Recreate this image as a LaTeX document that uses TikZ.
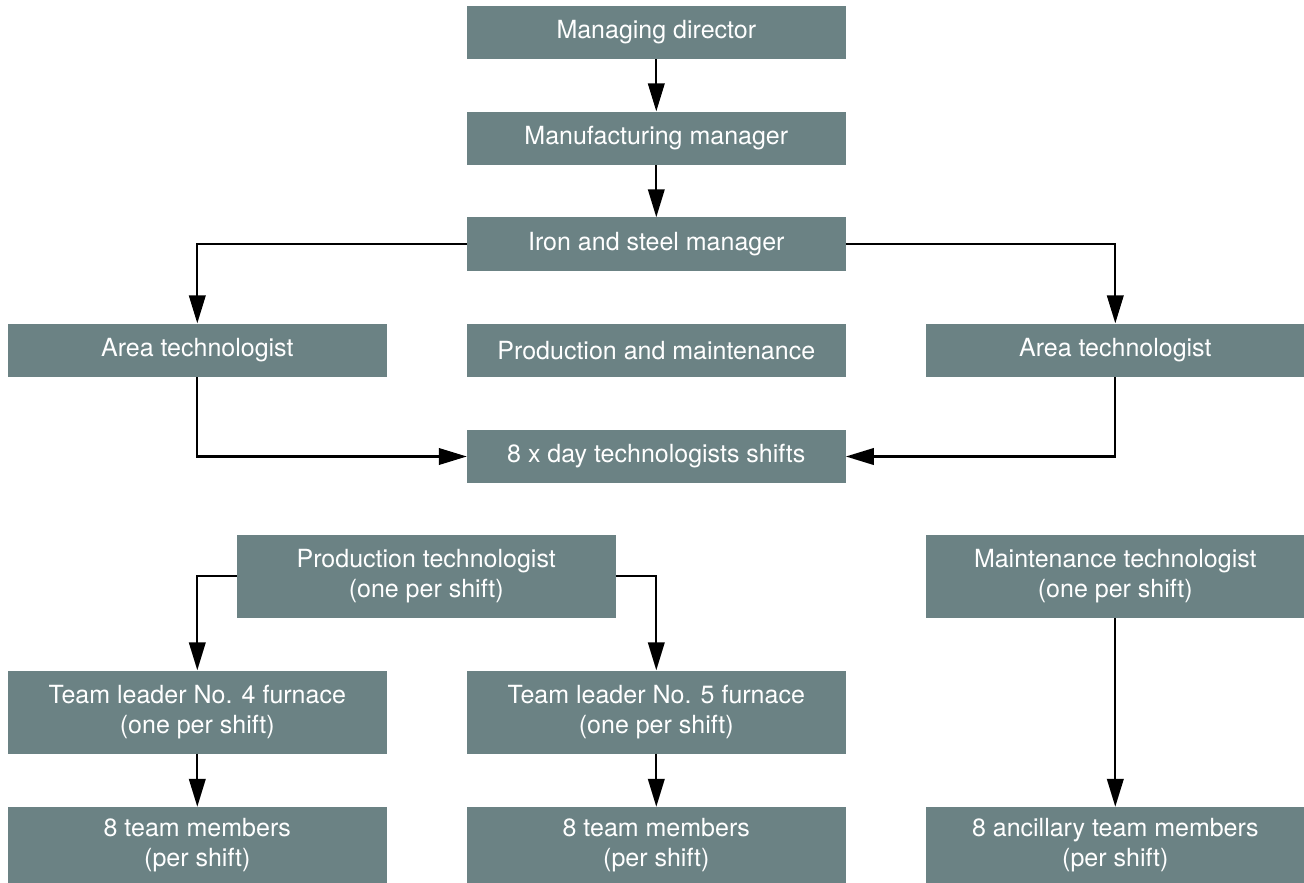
\documentclass[tikz,border=0pt]{standalone}
\usepackage{fontspec}
\setmainfont{TeX Gyre Heros}
\usetikzlibrary{arrows.meta}
\definecolor{boxfill}{RGB}{107,130,132}
\begin{document}
\begin{tikzpicture}[x=1pt,y=-1pt,
  orgbox/.style={fill=boxfill, text=white, inner sep=0pt, minimum width=378.7pt,
    align=center, font=\fontsize{25}{30}\selectfont},
  onel/.style={orgbox, minimum height=53.5pt},
  twol/.style={orgbox, minimum height=83pt},
  botl/.style={orgbox, minimum height=76pt},
  conn/.style={line width=2.3pt, -{Triangle[length=28pt,width=16.5pt]}}]
\useasboundingbox (0,0) rectangle (1304,883);
\node[onel] (md) at (656.3,32.3) {Managing director};
\node[onel] (mm) at (656.3,138.3) {Manufacturing manager};
\node[onel] (ism) at (656.3,244.2) {Iron and steel manager};
\node[onel] (al) at (197.3,350.3) {Area technologist};
\node[onel] (pm) at (656.3,350.3) {Production and maintenance};
\node[onel] (ar) at (1115.3,350.3) {Area technologist};
\node[onel] (day) at (656.3,456.5) {8 x day technologists shifts};
\node[twol] (pt) at (426.2,576.3) {Production technologist\\(one per shift)};
\node[twol] (mt) at (1115.3,576.3) {Maintenance technologist\\(one per shift)};
\node[twol] (tl4) at (197.3,712) {Team leader No. 4 furnace\\(one per shift)};
\node[twol] (tl5) at (656.3,712) {Team leader No. 5 furnace\\(one per shift)};
\node[botl] (tm4) at (197.3,845) {8 team members\\(per shift)};
\node[botl] (tm5) at (656.3,845) {8 team members\\(per shift)};
\node[botl] (anc) at (1115.3,845) {8 ancillary team members\\(per shift)};
\draw[conn] (md) -- (mm);
\draw[conn] (mm) -- (ism);
\draw[conn] (ism.west) -| (al.north);
\draw[conn] (ism.east) -| (ar.north);
\draw[conn] (al.south) |- (day.west);
\draw[conn] (ar.south) |- (day.east);
\draw[conn] (pt.west) -| (tl4.north);
\draw[conn] (pt.east) -| (tl5.north);
\draw[conn] (tl4) -- (tm4);
\draw[conn] (tl5) -- (tm5);
\draw[conn] (mt) -- (anc);
\end{tikzpicture}
\end{document}
